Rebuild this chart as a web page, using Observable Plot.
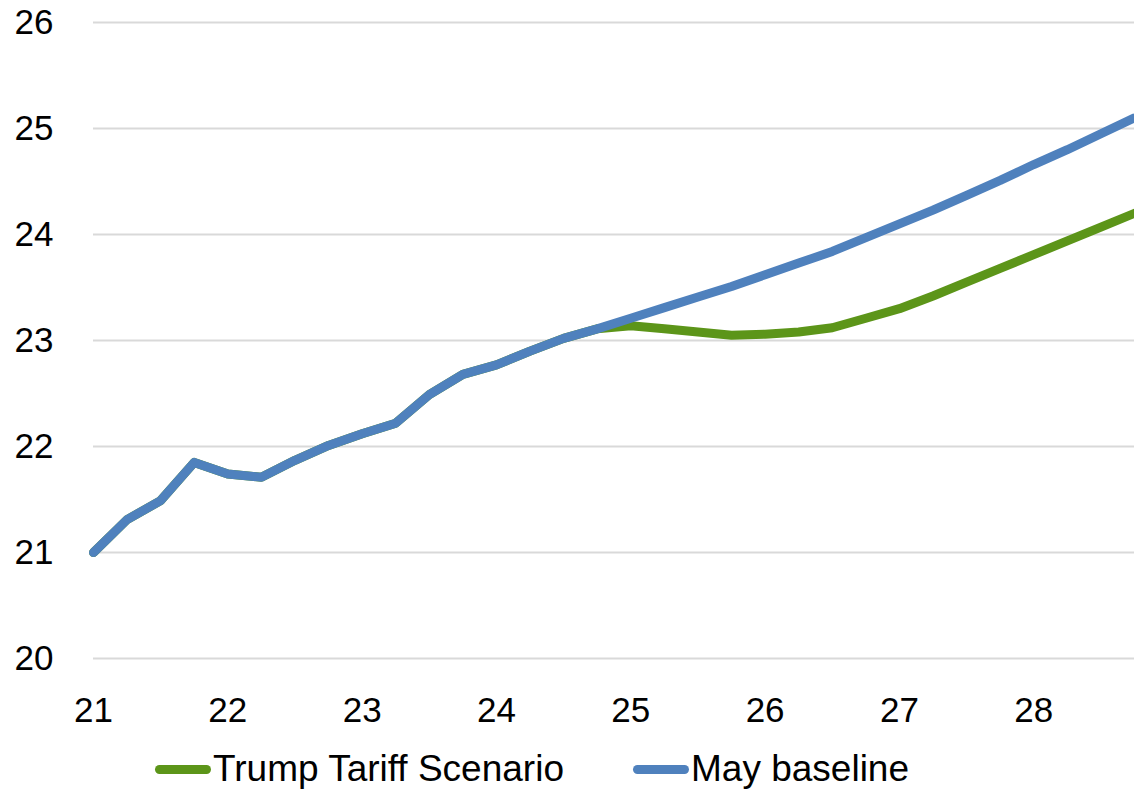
<!DOCTYPE html>
<html>
<head>
<meta charset="utf-8">
<script src="https://cdn.jsdelivr.net/npm/d3@7"></script>
<script src="https://cdn.jsdelivr.net/npm/@observablehq/plot@0.6"></script>
<style>
  html, body { margin: 0; padding: 0; background: #fff; }
  #chart { width: 1134px; font-family: "Liberation Sans", Arial, sans-serif; }
  .legend { position: relative; width: 1134px; height: 50px; font-size: 37px; color: #000; }
  .legend .item { position: absolute; top: 6px; height: 46px; display: flex; align-items: center; }
  .legend .swatch { width: 56px; height: 9px; border-radius: 4.5px; margin-right: 2px; }
</style>
</head>
<body>
<div id="chart"></div>
<script>
// Quarterly periods, expressed as year (two-digit) plus quarter fraction
const quarters = [
  21.00, 21.25, 21.50, 21.75,
  22.00, 22.25, 22.50, 22.75,
  23.00, 23.25, 23.50, 23.75,
  24.00, 24.25, 24.50, 24.75,
  25.00, 25.25, 25.50, 25.75,
  26.00, 26.25, 26.50, 26.75,
  27.00, 27.25, 27.50, 27.75,
  28.00, 28.25, 28.50, 28.75
];

// May baseline
const mayBaseline = [
  21.00, 21.31, 21.49, 21.85,
  21.74, 21.71, 21.87, 22.01,
  22.12, 22.22, 22.49, 22.68,
  22.77, 22.90, 23.02, 23.11,
  23.21, 23.31, 23.41, 23.51,
  23.62, 23.73, 23.84, 23.97,
  24.10, 24.23, 24.37, 24.51,
  24.66, 24.80, 24.95, 25.10
];

// Trump Tariff Scenario
const tariffScenario = [
  21.00, 21.31, 21.49, 21.85,
  21.74, 21.71, 21.87, 22.01,
  22.12, 22.22, 22.49, 22.68,
  22.77, 22.90, 23.02, 23.11,
  23.14, 23.11, 23.08, 23.05,
  23.06, 23.08, 23.12, 23.21,
  23.30, 23.42, 23.55, 23.68,
  23.81, 23.94, 24.07, 24.20
];

const xTicks = [21, 22, 23, 24, 25, 26, 27, 28];
const yTicks = [20, 21, 22, 23, 24, 25, 26];

const seriesNames = ["Trump Tariff Scenario", "May baseline"];
const seriesColors = ["#5c9519", "#4f81bd"];

const rows = [];
quarters.forEach((q, i) => {
  rows.push({ q, value: tariffScenario[i], series: seriesNames[0] });
  rows.push({ q, value: mayBaseline[i], series: seriesNames[1] });
});

const plot = Plot.plot({
  width: 1134,
  height: 740,
  marginTop: 22,
  marginBottom: 82,
  marginLeft: 93,
  marginRight: 0,
  style: { fontFamily: "Liberation Sans, Arial, sans-serif", fontSize: "35px", color: "#000", background: "#fff" },
  x: { domain: [21, 28.75] },
  y: { domain: [20, 26] },
  color: { domain: seriesNames, range: seriesColors },
  marks: [
    Plot.gridY(yTicks, { stroke: "#d9d9d9", strokeOpacity: 1, strokeWidth: 2 }),
    Plot.axisX(xTicks, { tickSize: 0, tickPadding: 39, tickFormat: d => String(d), fontSize: 35, label: null }),
    Plot.axisY(yTicks, { tickSize: 0, tickPadding: 40, tickFormat: d => String(d), fontSize: 35, label: null }),
    Plot.line(rows, {
      x: "q", y: "value", z: "series", stroke: "series",
      strokeWidth: 9, strokeLinejoin: "round"
    })
  ]
});

const chart = document.getElementById("chart");
chart.appendChild(plot);

// Legend below the plot
const legend = document.createElement("div");
legend.className = "legend";
const legendLefts = [155, 633];
seriesNames.forEach((name, i) => {
  const item = document.createElement("div");
  item.className = "item";
  item.style.left = legendLefts[i] + "px";
  const sw = document.createElement("span");
  sw.className = "swatch";
  sw.style.background = seriesColors[i];
  const label = document.createElement("span");
  label.textContent = name;
  item.appendChild(sw);
  item.appendChild(label);
  legend.appendChild(item);
});
chart.appendChild(legend);
</script>
</body>
</html>
